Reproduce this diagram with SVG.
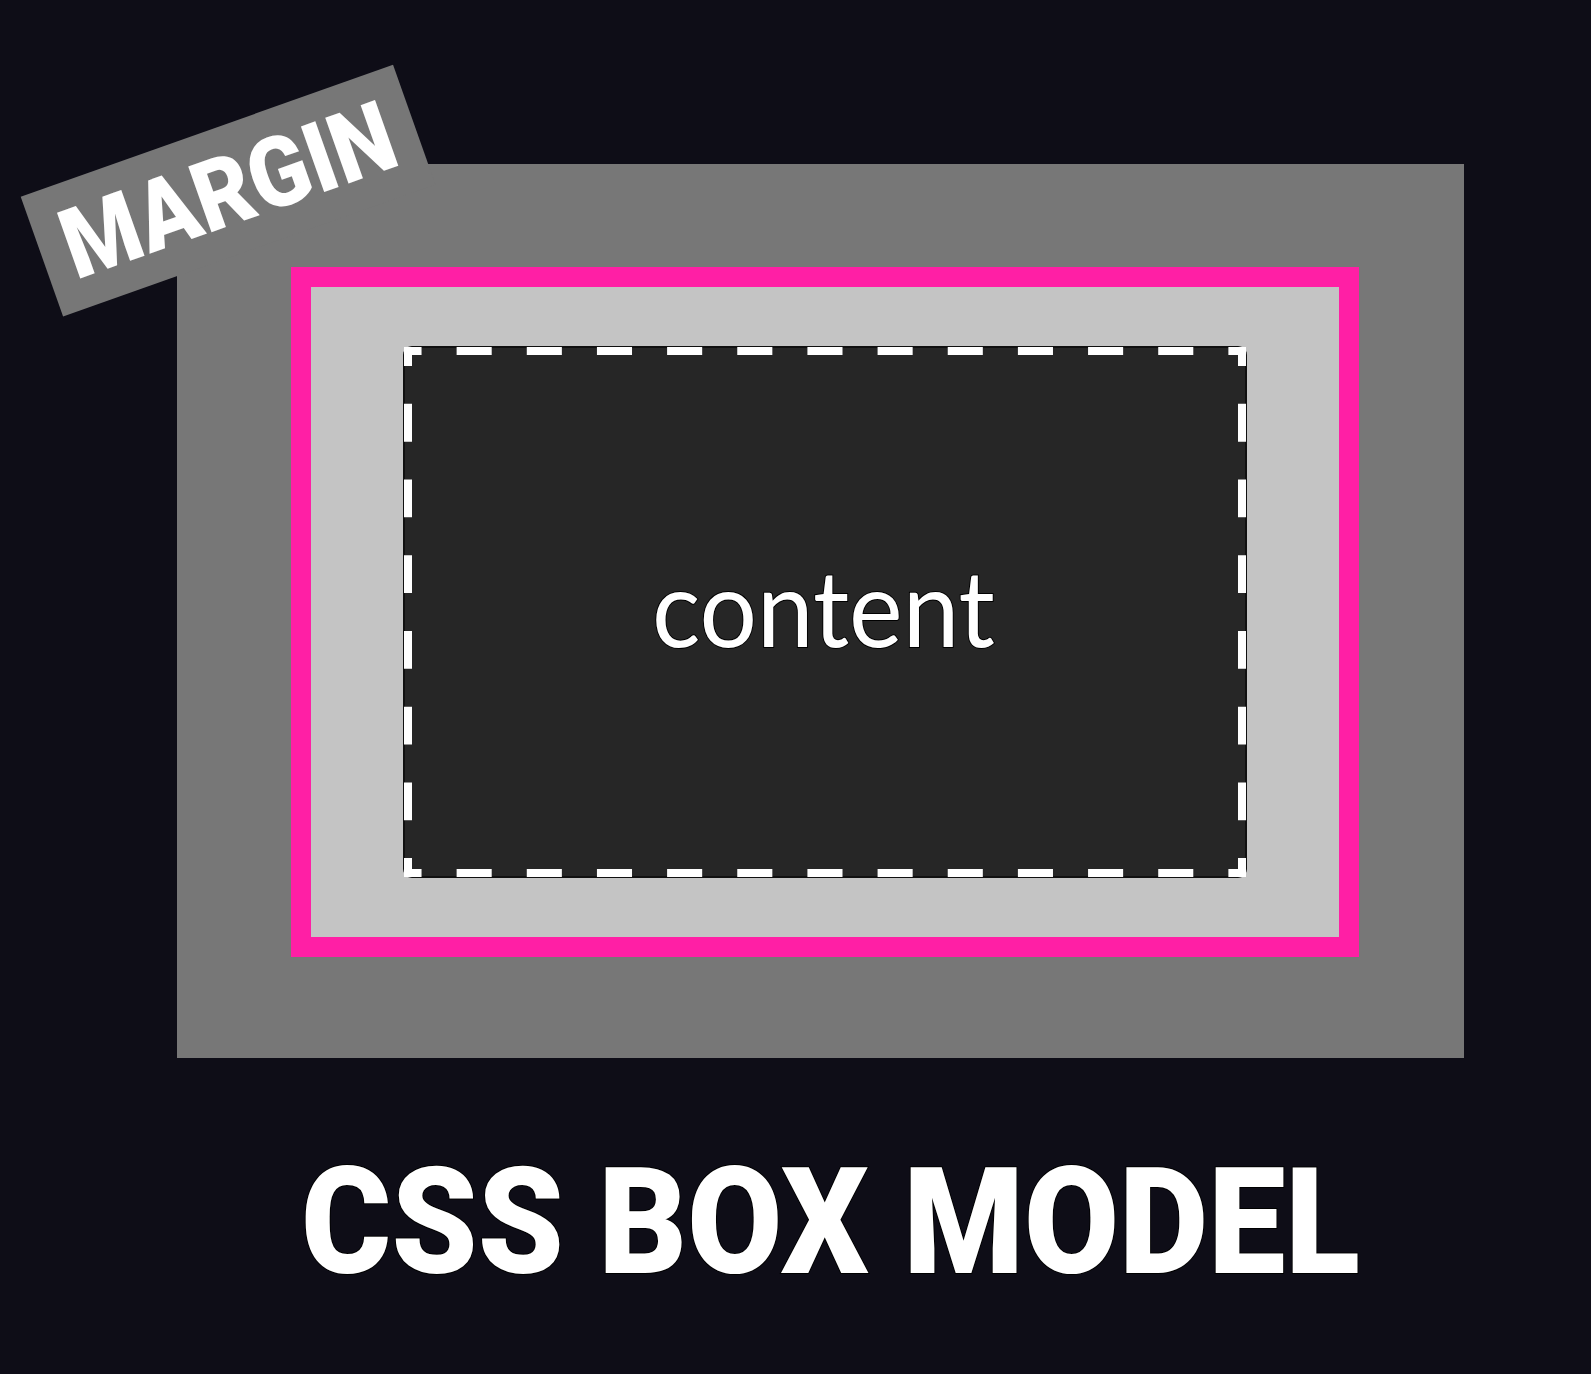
<svg xmlns="http://www.w3.org/2000/svg" width="1591" height="1374" viewBox="0 0 1591 1374">
  <style>
    .gray { fill: #777777; }
    .dash { stroke: #ffffff; stroke-width: 8; fill: none; }
    .label { font-family: Roboto, "Liberation Sans", sans-serif; font-weight: 900; fill: #ffffff; }
  </style>
  <rect x="0" y="0" width="1591" height="1374" fill="#0e0d17"/>

  <g id="margin">
    <rect class="gray" x="177" y="164" width="1287" height="894"/>
    <g id="margin-label" transform="translate(20.7,196.7) rotate(-19.5)">
      <rect class="gray" x="0" y="0" width="395" height="127"/>
      <text class="label" x="24" y="97" font-size="98" textLength="347" lengthAdjust="spacingAndGlyphs">MARGIN</text>
    </g>
  </g>

  <g id="border-padding">
    <rect x="301" y="277" width="1048" height="670" fill="#c4c4c4" stroke="#ff1fa5" stroke-width="20"/>
  </g>

  <g id="content">
    <rect x="404" y="347" width="842" height="530" rx="8" fill="#262626" stroke="#101010" stroke-width="2"/>
    <line class="dash" x1="404" y1="351" x2="1246" y2="351" stroke-dasharray="35.08 35.08" stroke-dashoffset="17.54"/>
    <line class="dash" x1="404" y1="873" x2="1246" y2="873" stroke-dasharray="35.08 35.08" stroke-dashoffset="17.54"/>
    <line class="dash" x1="408" y1="347" x2="408" y2="877" stroke-dasharray="37.86 37.86" stroke-dashoffset="18.93"/>
    <line class="dash" x1="1242" y1="347" x2="1242" y2="877" stroke-dasharray="37.86 37.86" stroke-dashoffset="18.93"/>
    <text x="652" y="647" font-family="Lato, 'Noto Sans', sans-serif" font-weight="400" font-size="106" fill="#ffffff" stroke="#000000" stroke-width="2" paint-order="stroke" textLength="343" lengthAdjust="spacingAndGlyphs">content</text>
  </g>

  <g id="title">
    <text class="label" x="301" y="1273" font-size="149" stroke="#000000" stroke-width="2" paint-order="stroke" textLength="1059" lengthAdjust="spacingAndGlyphs">CSS BOX MODEL</text>
  </g>
</svg>
